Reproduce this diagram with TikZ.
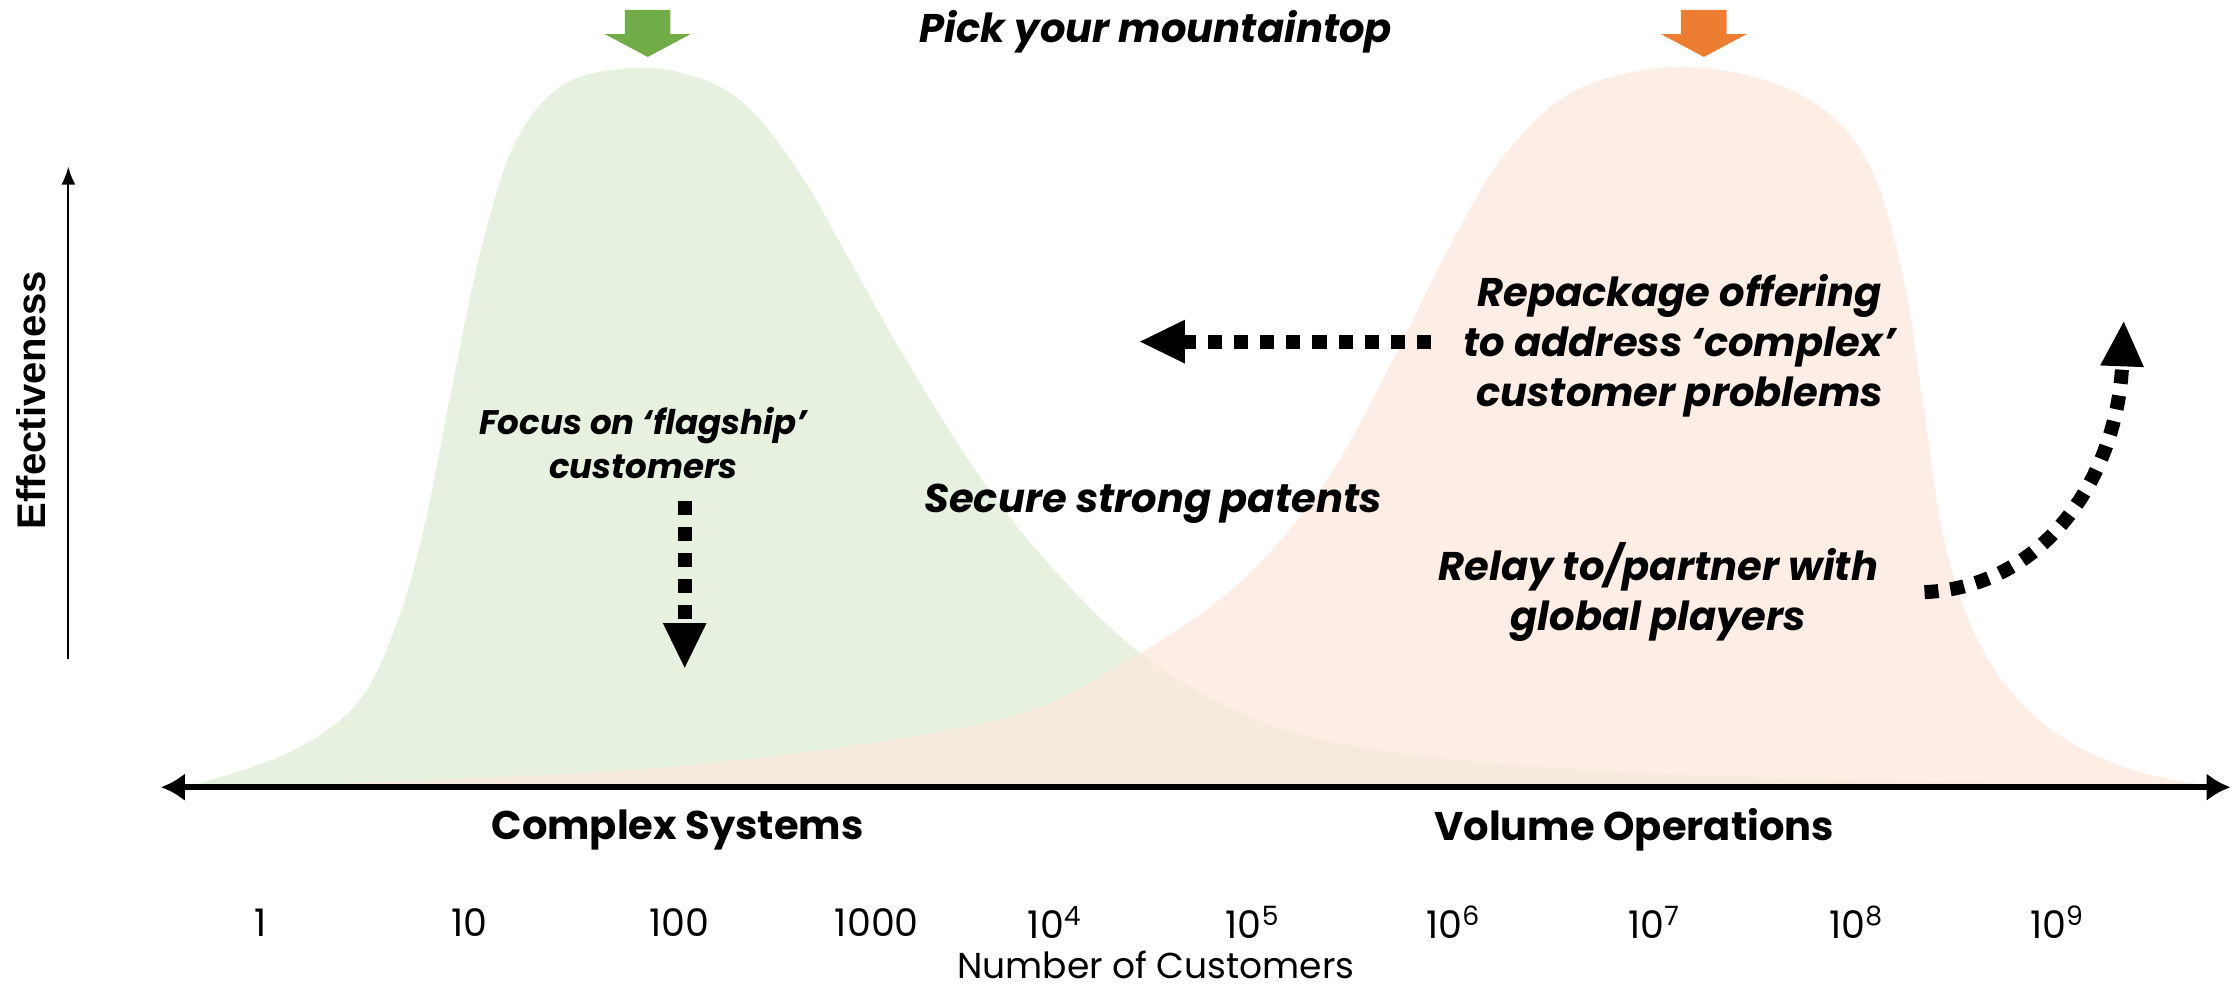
\documentclass[tikz,border=0pt]{standalone}
\usepackage{fontspec}
\setmainfont{Poppins}
\newfontfamily\axisfont{Liberation Sans}
\usetikzlibrary{arrows.meta}
\definecolor{leafgreen}{RGB}{112,173,71}
\definecolor{sunorange}{RGB}{237,125,49}
\definecolor{greenhill}{RGB}{230,241,223}
\definecolor{orangehill}{RGB}{251,233,223}

\begin{document}
\begin{tikzpicture}[x=0.025cm,y=-0.025cm,>={Triangle[length=23pt,width=20pt]}]
  \tikzstyle{hint}=[align=center,font=\fontsize{20}{25}\selectfont\bfseries\itshape]
  \tikzstyle{move}=[line width=7pt,dash pattern=on 7pt off 6pt]
  \tikzstyle{tick}=[font=\fontsize{19}{22}\selectfont]
  \tikzstyle{side}=[font=\fontsize{20}{24}\selectfont\bfseries]
  \useasboundingbox (0,0) rectangle (1568,698);

  \fill[greenhill] plot[smooth,tension=0.6] coordinates {(130,553) (200,530) (250,495)
    (278,440) (298,370) (318,270) (338,175) (362,100) (395,60) (440,48) (482,52)
    (522,72) (562,122) (602,192) (642,262) (692,340) (742,402) (800,458) (870,500)
    (950,524) (1100,540) (1300,548) (1560,553)} -- cycle;
  \fill[orangehill,opacity=0.8] plot[smooth,tension=0.6] coordinates {(130,553)
    (300,548) (500,536) (700,506) (790,465) (870,410) (930,340) (975,260) (1020,170)
    (1060,105) (1110,62) (1185,47) (1262,65) (1310,110) (1336,190) (1352,290)
    (1366,380) (1392,455) (1435,508) (1495,540) (1560,553)} -- cycle;

  \foreach \px/\col in {455/leafgreen,1197/sunorange}
    \fill[\col,shift={(\px,0)}] (-16,7) -- (16,7) -- (16,24) -- (30,24) -- (0,40)
      -- (-30,24) -- (-16,24) -- cycle;

  \node[hint] (title) at (812,22) {Pick your mountaintop};
  \node[font=\axisfont\fontsize{20}{24}\selectfont\bfseries,rotate=90] (eff) at (22,281) {Effectiveness};

  \coordinate (ybot) at (48,463);
  \coordinate (ytop) at (48,117);
  \draw[-{Latex[length=9pt,width=7pt]},line width=1.1pt] (ybot) -- (ytop);
  \coordinate (xl) at (113,553);
  \coordinate (xr) at (1567,553);
  \draw[{Latex[length=12pt,width=14pt]}-{Latex[length=12pt,width=14pt]},line width=3pt] (xl) -- (xr);

  \node[side] (cplx) at (476,583) {Complex Systems};
  \node[side] (vol) at (1148,583) {Volume Operations};
  \foreach \lab/\px in {1/183,10/330,100/477,1000/616,10\textsuperscript{4}/741,
      10\textsuperscript{5}/880,10\textsuperscript{6}/1021,10\textsuperscript{7}/1162,
      10\textsuperscript{8}/1304,10\textsuperscript{9}/1445}
    \node[tick] (n\px) at (\px,648) {\lab};
  \node[tick,font=\fontsize{18}{20}\selectfont] (ncust) at (812,678) {Number of Customers};

  \node[hint,font=\fontsize{17}{22}\selectfont\bfseries\itshape] (focus) at (452,311) {Focus on ‘flagship’\\customers};
  \node[hint] (patent) at (810,354) {Secure strong patents};
  \node[hint] (repack) at (1180,243) {Repackage offering\\to address ‘complex’\\customer problems};
  \node[hint] (relay) at (1165,416) {Relay to/partner with\\global players};

  \coordinate (fs) at (481,352);
  \coordinate (fe) at (481,470);
  \draw[move,->] (fs) -- (fe);
  \coordinate (ls) at (1005,240);
  \coordinate (le) at (800,240);
  \draw[move,->] (ls) -- (le);
  \coordinate (rs) at (1352,416);
  \coordinate (re) at (1492,225);
  \draw[move,->] (rs) .. controls (1440,412) and (1488,330) .. (re);
\end{tikzpicture}
\end{document}
